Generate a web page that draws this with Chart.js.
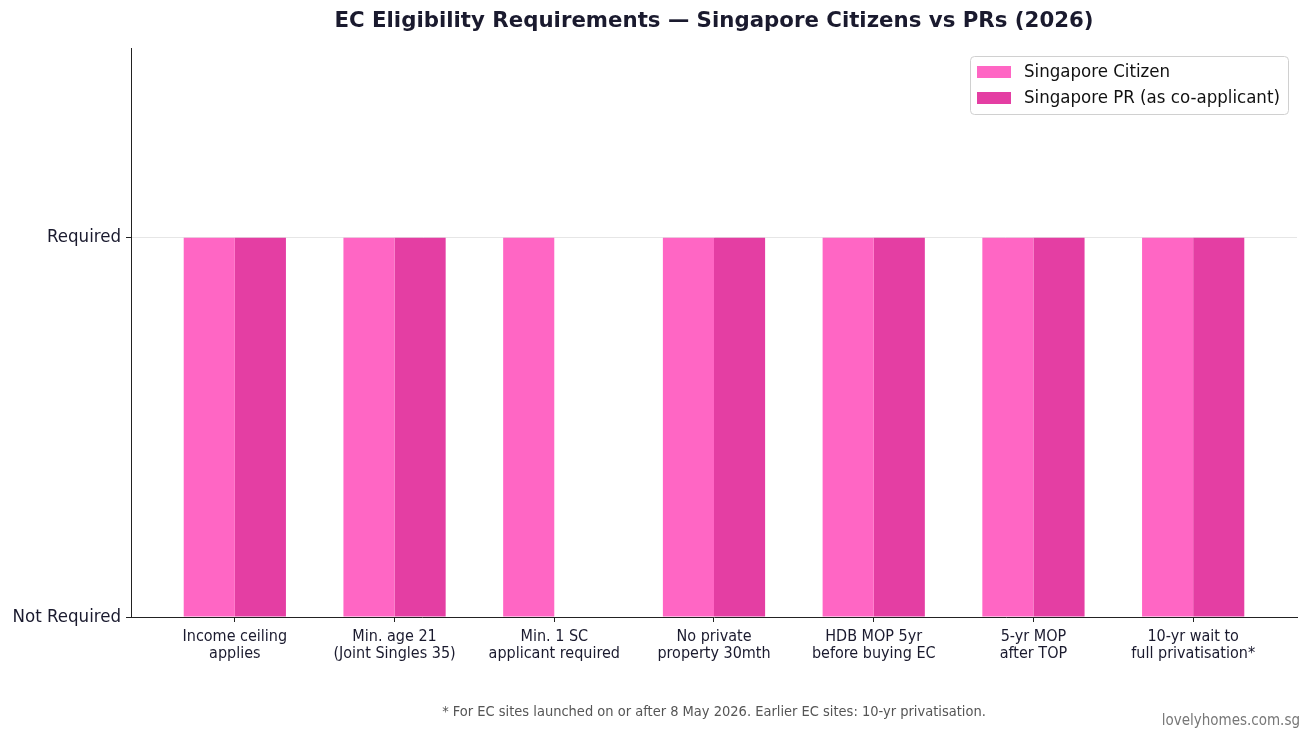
<!DOCTYPE html>
<html>
<head>
<meta charset="utf-8">
<script src="https://cdn.jsdelivr.net/npm/chart.js@4/dist/chart.umd.min.js"></script>
<style>
html,body{margin:0;padding:0;background:#fff;}
#wrap{width:1311px;height:740px;position:relative;}
</style>
</head>
<body>
<div id="wrap"><canvas id="c" width="1311" height="740"></canvas></div>
<script>
const categories = [
  ["Income ceiling","applies"],
  ["Min. age 21","(Joint Singles 35)"],
  ["Min. 1 SC","applicant required"],
  ["No private","property 30mth"],
  ["HDB MOP 5yr","before buying EC"],
  ["5-yr MOP","after TOP"],
  ["10-yr wait to","full privatisation*"]
];
const citizenValues = [1,1,1,1,1,1,1];
const prValues = [1,1,0,1,1,1,1];
const yTickLabels = {0:"Not Required", 1:"Required"};
const seriesNames = ["Singapore Citizen","Singapore PR (as co-applicant)"];
const seriesColors = ["#ff66c4","#e43ea3"];
const titleText = "EC Eligibility Requirements \u2014 Singapore Citizens vs PRs (2026)";
const footnote = "* For EC sites launched on or after 8 May 2026. Earlier EC sites: 10-yr privatisation.";
const credit = "lovelyhomes.com.sg";

const condensed = "'DejaVu Sans Condensed','DejaVu Sans',sans-serif";
const dark = "#1a1a2e";

const overlay = {
  id:'overlay',
  afterDraw(chart){
    const ctx = chart.ctx, ca = chart.chartArea;
    ctx.save();
    // title
    ctx.fillStyle = dark;
    ctx.font = "bold 21.3px 'DejaVu Sans',sans-serif";
    ctx.textAlign = 'center'; ctx.textBaseline = 'middle';
    ctx.fillText(titleText, (ca.left+ca.right)/2, 21);
    // footnote
    ctx.fillStyle = "#555";
    ctx.font = "14.5px " + condensed;
    ctx.fillText(footnote, (ca.left+ca.right)/2, 712);
    ctx.fillStyle = "#777";
    ctx.font = "15px " + condensed;
    ctx.textAlign = 'right';
    ctx.fillText(credit, 1300, 721);
    // legend
    const bx = 970.5, by = 56.5, bw = 318, bh = 58, r = 4;
    ctx.beginPath();
    ctx.moveTo(bx+r,by); ctx.lineTo(bx+bw-r,by); ctx.quadraticCurveTo(bx+bw,by,bx+bw,by+r);
    ctx.lineTo(bx+bw,by+bh-r); ctx.quadraticCurveTo(bx+bw,by+bh,bx+bw-r,by+bh);
    ctx.lineTo(bx+r,by+bh); ctx.quadraticCurveTo(bx,by+bh,bx,by+bh-r);
    ctx.lineTo(bx,by+r); ctx.quadraticCurveTo(bx,by,bx+r,by);
    ctx.closePath();
    ctx.fillStyle = "rgba(255,255,255,0.8)"; ctx.fill();
    ctx.strokeStyle = "#d0d0d0"; ctx.lineWidth = 1; ctx.stroke();
    ctx.textAlign = 'left'; ctx.textBaseline = 'middle';
    ctx.font = "18.5px " + condensed;
    seriesNames.forEach((n,i)=>{
      const y = 72 + i*26;
      ctx.fillStyle = seriesColors[i];
      ctx.fillRect(977, y-6, 34, 12);
      ctx.fillStyle = "#111";
      ctx.fillText(n, 1024, y);
    });
    ctx.restore();
  }
};

new Chart(document.getElementById('c'), {
  type:'bar',
  data:{
    datasets:[
      {label:seriesNames[0], data:citizenValues.map((v,i)=>({x:i,y:v})), backgroundColor:seriesColors[0], borderWidth:0},
      {label:seriesNames[1], data:prValues.map((v,i)=>({x:i,y:v})), backgroundColor:seriesColors[1], borderWidth:0}
    ]
  },
  options:{
    responsive:false,
    animation:false,
    layout:{padding:{top:48,right:14,bottom:0,left:0}},
    datasets:{bar:{categoryPercentage:0.64,barPercentage:1}},
    plugins:{legend:{display:false},title:{display:false},tooltip:{enabled:false}},
    scales:{
      x:{
        type:'linear', min:-0.65, max:6.65, offset:false,
        afterBuildTicks(s){ s.ticks = categories.map((_,i)=>({value:i})); },
        afterFit(s){ s.height = 123; },
        ticks:{
          autoSkip:false, maxRotation:0,
          callback:(v)=>categories[v],
          color:dark, font:{family:condensed,size:16,lineHeight:1.08}, padding:6
        },
        grid:{offset:false, drawOnChartArea:false, drawTicks:true, tickLength:5, tickColor:"#222"},
        border:{color:"#222",width:1}
      },
      y:{
        min:0, max:1.5,
        afterBuildTicks(s){ s.ticks = [{value:0},{value:1}]; },
        afterFit(s){ s.width = 131; },
        ticks:{
          callback:(v)=>yTickLabels[v],
          color:dark, font:{family:condensed,size:18.5}, padding:5
        },
        grid:{
          color:(c)=> c.tick && c.tick.value===1 ? "#e6e6e6" : "rgba(0,0,0,0)",
          tickColor:"#222", tickLength:5, drawTicks:true
        },
        border:{color:"#222",width:1}
      }
    }
  },
  plugins:[overlay]
});
</script>
</body>
</html>
